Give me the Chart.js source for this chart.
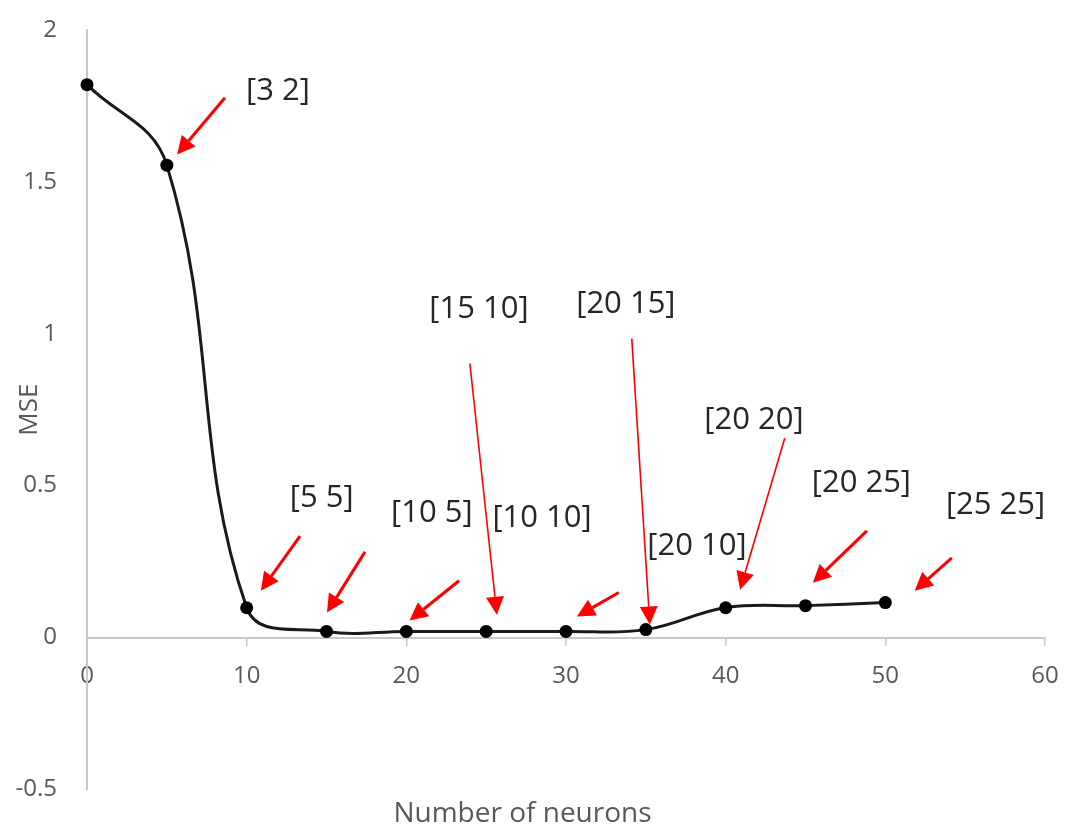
<!DOCTYPE html>
<html>
<head>
<meta charset="utf-8">
<script src="https://cdn.jsdelivr.net/npm/chart.js@4.4.0/dist/chart.umd.min.js"></script>
<style>
  html, body { margin: 0; padding: 0; background: #fff; }
  #wrap { width: 1074px; height: 831px; }
</style>
</head>
<body>
<div id="wrap"><canvas id="grafico_mse"></canvas></div>
<script>
// dados
const neuronios = [0, 5, 10, 15, 20, 25, 30, 35, 40, 45, 50];
const mse = [1.82, 1.555, 0.098, 0.02, 0.02, 0.02, 0.02, 0.026, 0.098, 0.105, 0.115];
const ticksX = [0, 10, 20, 30, 40, 50, 60];
const ticksY = [-0.5, 0, 0.5, 1, 1.5, 2];

// rotulos das arquiteturas (em unidades do grafico)
const rotulos = ['[3 2]', '[5 5]', '[10 5]', '[15 10]', '[10 10]', '[20 15]', '[20 10]', '[20 20]', '[20 25]', '[25 25]'];
const rotuloX = [11.96, 14.7, 21.6, 24.55, 28.5, 33.75, 38.2, 41.77, 48.5, 56.9];
const rotuloY = [1.797, 0.459, 0.41, 1.082, 0.393, 1.098, 0.302, 0.715, 0.508, 0.436];

// setas: de (deX, deY) ate (ateX, ateY)
const setaDeX = [8.64, 13.34, 17.41, 23.3, 23.98, 33.3, 34.12, 43.7, 48.84, 54.16];
const setaDeY = [1.777, 0.334, 0.282, 0.187, 0.902, 0.148, 0.984, 0.656, 0.351, 0.262];
const setaAteX = [5.64, 10.89, 15.03, 20.2, 25.67, 30.68, 35.25, 40.9, 45.46, 51.84];
const setaAteY = [1.590, 0.154, 0.082, 0.056, 0.075, 0.069, 0.043, 0.157, 0.180, 0.154];

const fonte = '"Open Sans", "DejaVu Sans", sans-serif';

function desenharSeta(ctx, x1, y1, x2, y2) {
  const ang = Math.atan2(y2 - y1, x2 - x1);
  const comp = Math.hypot(x2 - x1, y2 - y1);
  const cabeca = 18, meia = 9;
  const bx = x2 - cabeca * Math.cos(ang);
  const by = y2 - cabeca * Math.sin(ang);
  ctx.strokeStyle = '#ff0000';
  ctx.fillStyle = '#ff0000';
  ctx.lineWidth = comp > 150 ? 1.6 : 3;
  ctx.beginPath();
  ctx.moveTo(x1, y1);
  ctx.lineTo(bx, by);
  ctx.stroke();
  ctx.beginPath();
  ctx.moveTo(x2, y2);
  ctx.lineTo(bx + meia * Math.sin(ang), by - meia * Math.cos(ang));
  ctx.lineTo(bx - meia * Math.sin(ang), by + meia * Math.cos(ang));
  ctx.closePath();
  ctx.fill();
}

// plugin para setas e rotulos
const anotacoes = {
  id: 'anotacoes',
  afterDatasetsDraw(chart) {
    const { ctx, scales: { x, y } } = chart;
    ctx.save();
    for (let i = 0; i < setaDeX.length; i++) {
      desenharSeta(ctx,
        x.getPixelForValue(setaDeX[i]), y.getPixelForValue(setaDeY[i]),
        x.getPixelForValue(setaAteX[i]), y.getPixelForValue(setaAteY[i]));
    }
    ctx.fillStyle = '#262626';
    ctx.font = '31px ' + fonte;
    ctx.textAlign = 'center';
    ctx.textBaseline = 'middle';
    for (let i = 0; i < rotulos.length; i++) {
      ctx.fillText(rotulos[i], x.getPixelForValue(rotuloX[i]), y.getPixelForValue(rotuloY[i]));
    }
    ctx.restore();
  }
};

const pontos = neuronios.map((n, i) => ({ x: n, y: mse[i] }));

// zera o espaco extra que as escalas pedem
function semPadding(s) {
  s.paddingTop = 0;
  s.paddingBottom = 0;
  s.paddingLeft = 0;
  s.paddingRight = 0;
}

new Chart(document.getElementById('grafico_mse'), {
  type: 'line',
  data: {
    datasets: [{
      data: pontos,
      borderColor: '#1a1a1a',
      backgroundColor: '#000',
      borderWidth: 3,
      pointRadius: 6.5,
      pointBorderWidth: 0,
      pointBackgroundColor: '#000',
      tension: 0.4,
      clip: false
    }]
  },
  options: {
    responsive: true,
    maintainAspectRatio: false,
    animation: false,
    layout: { padding: { top: 30, right: 29, left: 0, bottom: 0 } },
    plugins: {
      legend: { display: false },
      tooltip: { enabled: false },
      title: {
        display: true,
        position: 'bottom',
        text: 'Number of neurons',
        color: '#595959',
        font: { family: fonte, size: 28, weight: 'normal' },
        padding: { top: 8, bottom: 0 }
      }
    },
    scales: {
      x: {
        type: 'linear',
        min: 0,
        max: 60,
        position: { y: 0 },
        afterBuildTicks: s => { s.ticks = ticksX.map(v => ({ value: v })); },
        afterFit: semPadding,
        grid: { display: true, drawOnChartArea: false, drawTicks: true, tickLength: 7, color: '#c8c8c8', lineWidth: 1.5 },
        border: { display: true, color: '#c8c8c8', width: 2 },
        ticks: { color: '#595959', font: { family: fonte, size: 24 }, padding: 17, maxRotation: 0 }
      },
      y: {
        type: 'linear',
        min: -0.5,
        max: 2,
        afterBuildTicks: s => { s.ticks = ticksY.map(v => ({ value: v })); },
        afterFit: s => { semPadding(s); s.width = 87; },
        grid: { display: false, drawTicks: false },
        border: { display: true, color: '#c8c8c8', width: 2 },
        ticks: { color: '#595959', font: { family: fonte, size: 24 }, padding: 30, callback: v => String(v) },
        title: {
          display: true,
          text: 'MSE',
          color: '#595959',
          font: { family: fonte, size: 26 },
          padding: { top: 14, bottom: 0 }
        }
      }
    }
  },
  plugins: [anotacoes]
});
</script>
</body>
</html>
